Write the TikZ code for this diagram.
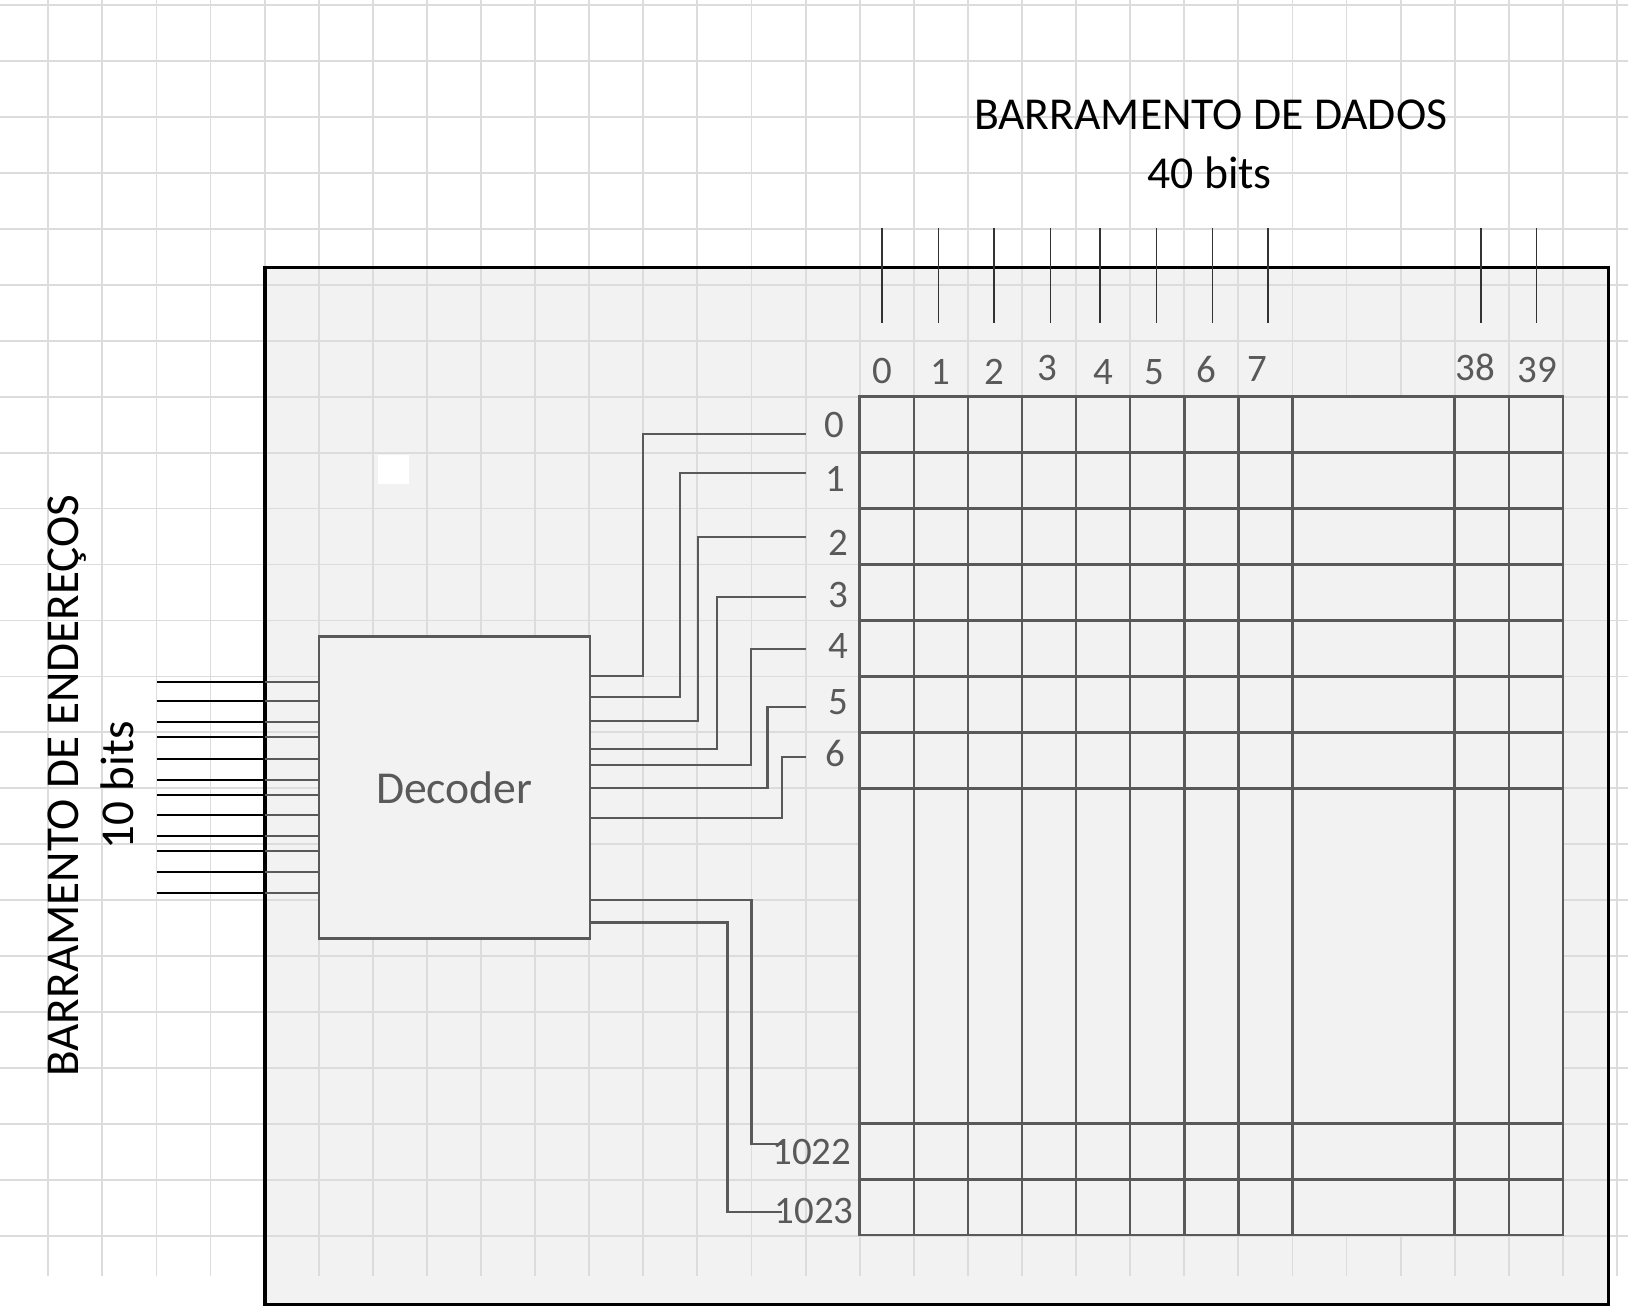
\documentclass[tikz,border=0pt]{standalone}
\usepackage{fontspec}
\setmainfont{Carlito}
\definecolor{boxfill}{HTML}{F2F2F2}
\definecolor{gridc}{HTML}{DCDCDC}
\definecolor{ink}{HTML}{595959}
\tikzset{
  bgline/.style={draw=gridc, line width=0.9pt},
  wire/.style={draw=ink, line width=1pt},
  cellline/.style={draw=ink, line width=1.2pt, line cap=rect},
  addrout/.style={draw=black, line width=1pt},
  busline/.style={draw=black!80, line width=0.8pt},
  numlbl/.style={text=ink, font=\fontsize{18.75}{20}\selectfont, inner sep=0pt},
  bigtxt/.style={text=black, font=\fontsize{22}{26}\selectfont, inner sep=0pt},
}
\begin{document}
\begin{tikzpicture}[x=0.5pt, y=-0.5pt]
\useasboundingbox (0,0) rectangle (1568,1259);
\fill[white] (0,0) rectangle (1568,1259);
% outer panel fill
\node[fill=boxfill, draw=none, minimum width=647pt, minimum height=499.5pt,
      inner sep=0pt, outer sep=0pt, anchor=north west] (box) at (255.2,257.8) {};
% background grid
\foreach \k in {0,...,22} \draw[bgline] (0,4.7+53.9*\k) -- (1568,4.7+53.9*\k);
\foreach \k in {0,...,29} \draw[bgline] (46.5+52.1*\k,0) -- (46.5+52.1*\k,1229);
\fill[white] (364.4,438.6) rectangle (393.9,466.3);
\draw[black, line width=1.5pt] (box.north west) rectangle (box.south east);
% memory matrix
\fill[boxfill] (828,382) rectangle (1505.3,1189.6);
\foreach \y in {382,435.9,489.8,543.7,597.6,651.5,705.4,759.3,1082,1135.8,1189.6}
  \draw[cellline] (828,\y) -- (1505.3,\y);
\foreach \x in {828,880.1,932.2,984.3,1036.4,1088.5,1140.6,1192.7,1244.8,1401.1,1453.2,1505.3}
  \draw[cellline] (\x,382) -- (\x,1189.6);
% decoder
\node[draw=ink, line width=1.1pt, fill=boxfill, minimum width=130.5pt, minimum height=145.5pt,
      inner sep=0pt, outer sep=0pt, text=ink, font=\fontsize{22}{26}\selectfont] (dec) at (437.6,758.5) {Decoder};
% address bus
\foreach \i/\y in {1/657,2/675,3/695,4/710,5/731,6/751,7/766,8/785,9/805,10/820,11/840,12/860} {
  \coordinate (a\i) at (151,\y);
  \draw[addrout] (a\i) -- (a\i -| box.west);
  \draw[wire] (a\i -| box.west) -- (a\i -| dec.west);
}
% data bus
\foreach \n/\x/\lx/\ly in {0/849.5/850/369, 1/903.8/906/370, 2/957.5/958/370, 3/1011.7/1009/366,
    4/1059.7/1063/370, 5/1114/1112/370, 6/1167.8/1162/368, 7/1221.4/1211/367,
    38/1426.1/1421/366, 39/1479.7/1481/368} {
  \coordinate (dt\n) at (\x,219.9);
  \coordinate (db\n) at (\x,311.4);
  \draw[busline] (dt\n) -- (db\n);
  \node[numlbl, anchor=base] (c\n) at (\lx,\ly) {\n};
}
% decoder outputs
\foreach \n/\ya/\xv/\yb/\lx/\ly in {0/651/619.5/417.6/804/409, 1/671/654.5/455.5/805/461,
    2/694.3/672/517.6/807/523, 3/721/690.6/575.4/807/573, 4/736.5/723.7/625/807/622,
    5/758.8/739.2/680.8/807/676, 6/788.2/753.2/728.7/805/726} {
  \node[numlbl] (r\n) at (\lx,\ly) {\n};
  \coordinate (re\n) at (776,\yb);
  \draw[wire] (dec.east |- 0,\ya) -| (\xv,\yb) -- (re\n);
}
\node[numlbl] (r1022) at (782,1110) {1022};
\coordinate (re1022) at (753,1101.8);
\draw[wire] (dec.east |- 0,866.7) -| (723.8,1101.8) -- (re1022);
\node[numlbl] (r1023) at (784,1166) {1023};
\coordinate (re1023) at (753,1167.7);
\draw[wire] (dec.east |- 0,888.5) -| (700.7,1167.7) -- (re1023);
% titles
\node[bigtxt, anchor=base] (tdados) at (1166,125.2) {BARRAMENTO DE DADOS};
\node[bigtxt, anchor=base] (tbits) at (1165,181.4) {40 bits};
\node[bigtxt, font=\fontsize{22.7}{26}\selectfont, rotate=90, anchor=base] (tend) at (75.4,756.6) {BARRAMENTO DE ENDEREÇOS};
\node[bigtxt, font=\fontsize{22.7}{26}\selectfont, rotate=90, anchor=base] (tbits2) at (128.4,756.5) {10 bits};
\end{tikzpicture}
\end{document}
